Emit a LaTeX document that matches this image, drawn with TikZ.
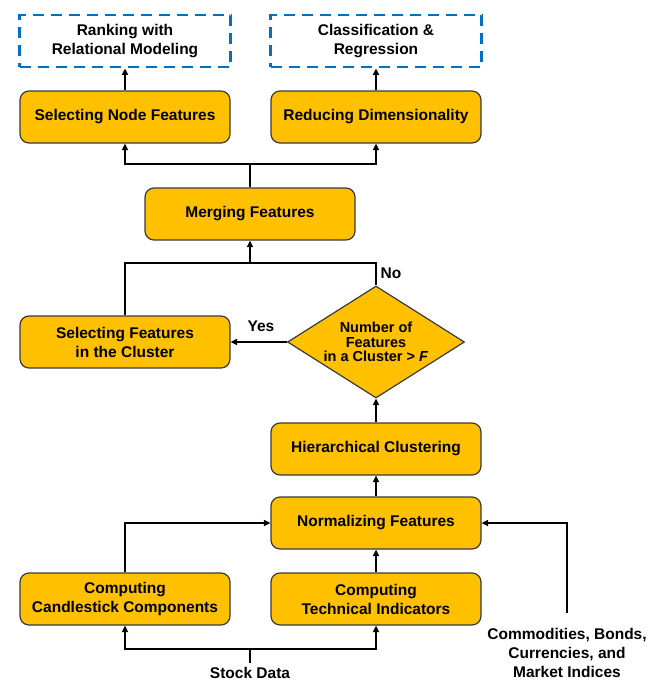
\documentclass[tikz,border=0pt]{standalone}
\usepackage{fontspec}
\setmainfont{Liberation Sans}
\usetikzlibrary{arrows.meta,shapes.geometric}
\definecolor{boxfill}{HTML}{FFC000}
\definecolor{boxline}{HTML}{3A3A3A}
\definecolor{dashblue}{HTML}{0070C0}
\begin{document}
\begin{tikzpicture}[x=1pt,y=-1pt,
  proc/.style={draw=boxline,line width=1.2pt,fill=boxfill,rounded corners=9pt,
     minimum width=210pt,minimum height=52pt,align=center,font=\bfseries\fontsize{15.5}{19}\selectfont,inner sep=0pt},
  goal/.style={draw=dashblue,line width=2.8pt,dash pattern=on 11pt off 7pt,fill=white,
     minimum width=211pt,minimum height=52pt,align=center,font=\bfseries\fontsize{15.5}{19}\selectfont,inner sep=0pt},
  dec/.style={diamond,draw=boxline,line width=1.2pt,fill=boxfill,minimum width=177pt,minimum height=112pt,
     inner sep=0pt,aspect=1.58},
  lbl/.style={align=center,font=\bfseries\fontsize{15.5}{19}\selectfont,inner sep=0pt},
  conn/.style={line width=1.8pt,black},
  arr/.style={conn,-{Triangle[width=6pt,length=6.5pt]}}]
\useasboundingbox (0,0) rectangle (664,683);
\node[goal] (rank) at (125,41) {Ranking with\\Relational Modeling};
\node[goal] (cls) at (376,41) {Classification \&\\Regression};
\node[proc] (sel) at (125,117) {Selecting Node Features};
\node[proc] (red) at (376,117) {Reducing Dimensionality};
\node[proc] (merge) at (250,214) {Merging Features};
\node[proc] (selc) at (125,342) {Selecting Features\\in the Cluster};
\node[dec] (num) at (376,342) {};
\node[lbl,font=\bfseries\fontsize{14.5}{14.5}\selectfont] (numt) at (376,342) {Number of\\Features\\in a Cluster > \textit{F}};
\node[proc] (hier) at (376,449) {Hierarchical Clustering};
\node[proc] (norm) at (376,523) {Normalizing Features};
\node[proc] (cand) at (125,599) {Computing\\Candlestick Components};
\node[proc] (tech) at (376,599) {Computing\\Technical Indicators};
\node[lbl] (stock) at (250,673) {Stock Data};
\node[lbl] (comm) at (567,653) {Commodities, Bonds,\\Currencies, and\\Market Indices};
\node[lbl] (yes) at (261,326) {Yes};
\node[lbl] (no) at (391,273) {No};
\coordinate (split) at (250,164);
\coordinate (join) at (250,263);
\coordinate (sbase) at (250,649);
\coordinate (stail) at (250,663);
\coordinate (ctail) at (567,613);
% top
\draw[arr] (sel.north) -- (rank.south);
\draw[arr] (red.north) -- (cls.south);
\draw[conn] (merge.north) -- (split);
\draw[arr] (split) -| (sel.south);
\draw[arr] (split) -| (red.south);
% middle
\draw[arr] (num.west) -- (selc.east);
\draw[conn] (num.north) |- (join);
\draw[conn] (selc.north) |- (join);
\draw[arr] (join) -- (merge.south);
\draw[arr] (hier.north) -- (num.south);
\draw[arr] (norm.north) -- (hier.south);
% bottom
\draw[arr] (cand.north) |- (norm.west);
\draw[arr] (tech.north) -- (norm.south);
\draw[arr] (ctail) |- (norm.east);
\draw[conn] (stail) -- (sbase);
\draw[arr] (sbase) -| (cand.south);
\draw[arr] (sbase) -| (tech.south);
\end{tikzpicture}
\end{document}
